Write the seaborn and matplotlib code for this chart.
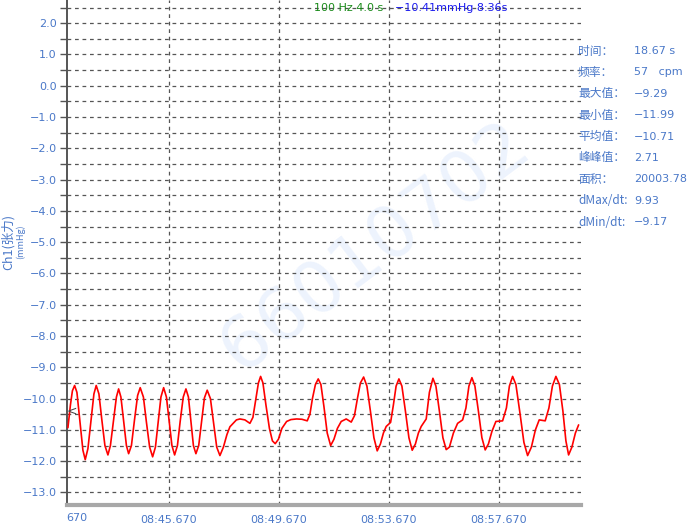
import matplotlib
matplotlib.use("Agg")
import matplotlib.pyplot as plt
from matplotlib.ticker import MultipleLocator, FixedLocator, FixedFormatter
import seaborn as sns
import pandas as pd

# ---------------- data ----------------
time_s = [0.342, 0.433, 0.505, 0.585, 0.669, 0.778, 0.887, 0.971, 1.069, 1.178,
          1.287, 1.371, 1.469, 1.578, 1.687, 1.796, 1.887, 1.996, 2.105, 2.185,
          2.269, 2.367, 2.469, 2.549, 2.651, 2.760, 2.876, 2.971, 3.087, 3.196,
          3.313, 3.422, 3.524, 3.625, 3.724, 3.822, 3.924, 4.022, 4.124, 4.222,
          4.324, 4.425, 4.535, 4.633, 4.724, 4.815, 4.905, 4.996, 5.098, 5.200,
          5.305, 5.407, 5.524, 5.636, 5.753, 5.869, 5.996, 6.124, 6.233, 6.353,
          6.469, 6.596, 6.778, 6.960, 7.069, 7.178, 7.269, 7.349, 7.433, 7.542,
          7.669, 7.778, 7.880, 7.996, 8.124, 8.295, 8.451, 8.658, 8.851, 9.044,
          9.142, 9.233, 9.342, 9.444, 9.542, 9.651, 9.771, 9.895, 10.015, 10.142,
          10.280, 10.462, 10.644, 10.760, 10.869, 10.978, 11.095, 11.215, 11.342, 11.469,
          11.589, 11.705, 11.815, 11.916, 12.076, 12.178, 12.276, 12.378, 12.487, 12.615,
          12.742, 12.862, 12.978, 13.087, 13.189, 13.371, 13.487, 13.615, 13.724, 13.851,
          13.978, 14.098, 14.215, 14.360, 14.513, 14.695, 14.815, 14.924, 15.033, 15.142,
          15.269, 15.396, 15.516, 15.633, 15.760, 15.905, 16.149, 16.287, 16.396, 16.513,
          16.633, 16.778, 16.924, 17.058, 17.196, 17.342, 17.480, 17.698, 17.833, 17.960,
          18.087, 18.215, 18.342, 18.451, 18.549, 18.669, 18.796, 18.913]
tension_mmhg = [-10.93, -10.20, -9.75, -9.58, -9.80, -10.74, -11.65, -11.95, -11.60, -10.74,
                -9.85, -9.58, -9.85, -10.70, -11.50, -11.80, -11.50, -10.72, -9.95, -9.69,
                -9.95, -10.72, -11.50, -11.76, -11.50, -10.70, -9.90, -9.65, -9.95, -10.75,
                -11.55, -11.86, -11.55, -10.75, -9.95, -9.65, -9.95, -10.72, -11.50, -11.80,
                -11.50, -10.72, -9.95, -9.69, -9.95, -10.72, -11.50, -11.76, -11.50, -10.74,
                -9.98, -9.73, -10.00, -10.77, -11.55, -11.82, -11.55, -11.15, -10.90, -10.79,
                -10.68, -10.65, -10.68, -10.79, -10.60, -10.00, -9.50, -9.29, -9.50, -10.20,
                -10.95, -11.35, -11.44, -11.30, -10.95, -10.73, -10.67, -10.65, -10.66, -10.71,
                -10.50, -10.00, -9.55, -9.37, -9.55, -10.25, -11.10, -11.50, -11.30, -10.95,
                -10.73, -10.65, -10.75, -10.55, -10.00, -9.50, -9.31, -9.60, -10.40, -11.25,
                -11.67, -11.45, -11.10, -10.89, -10.76, -10.20, -9.60, -9.37, -9.60, -10.40,
                -11.25, -11.65, -11.45, -11.10, -10.89, -10.65, -9.80, -9.35, -9.60, -10.40,
                -11.25, -11.63, -11.55, -11.10, -10.79, -10.68, -10.30, -9.60, -9.33, -9.60,
                -10.40, -11.25, -11.64, -11.45, -11.05, -10.73, -10.71, -10.30, -9.60, -9.29,
                -9.55, -10.45, -11.40, -11.82, -11.55, -11.00, -10.68, -10.71, -10.30, -9.60,
                -9.29, -9.55, -10.40, -11.35, -11.80, -11.55, -11.10, -10.84]

x_tick_pos = [4, 8, 12, 16]
x_tick_labels = ["08:45.670", "08:49.670", "08:53.670", "08:57.670"]
first_label_tail = "670"

stat_names = ["时间：", "频率：", "最大值：", "最小值：", "平均值：", "峰峰值：", "面积：", "dMax/dt:", "dMin/dt:"]
stat_values = ["18.67 s", "57   cpm", "−9.29", "−11.99", "−10.71", "2.71", "20003.78", "9.93", "−9.17"]

header_left = "100 Hz 4.0 s"
header_right = "−10.41mmHg 8:36s"
cursor_value = -10.41
ylabel_main = "Ch1(张力)"
ylabel_unit = "(mmHg)"
watermark = "66010702"

# ---------------- style ----------------
sns.set_theme(style="white")
plt.rcParams["font.family"] = ["DejaVu Sans", "Noto Sans CJK SC"]
CJK = ["Noto Sans CJK SC", "DejaVu Sans"]
BLUE = "#4a78c8"
W, H = 692, 524

fig = plt.figure(figsize=(W / 100, H / 100), dpi=100)
fig.patch.set_facecolor("white")
ax = fig.add_axes([66.5 / W, 1 - 505 / H, (581 - 66.5) / W, 505 / H])
ax.set_facecolor("white")

df = pd.DataFrame({"t": time_s, "v": tension_mmhg})
sns.lineplot(data=df, x="t", y="v", ax=ax, color="#ff0000", linewidth=1.2,
             estimator=None, sort=False, zorder=3)
ax.set_xlabel("")
ax.set_ylabel("")

ax.set_xlim(0.29, 19.0)
ax.set_ylim(-13.40, 2.74)

ax.yaxis.set_major_locator(MultipleLocator(1.0))
ax.yaxis.set_minor_locator(MultipleLocator(0.5))
ax.yaxis.set_major_formatter(matplotlib.ticker.FuncFormatter(lambda v, p: f"{v:.1f}".replace("-", "−")))
ax.xaxis.set_major_locator(FixedLocator(x_tick_pos))
ax.xaxis.set_major_formatter(FixedFormatter(x_tick_labels))

ax.tick_params(axis="y", which="both", direction="out", length=5, width=1,
               color="#555555", labelcolor=BLUE, labelsize=8, pad=2, left=True)
ax.tick_params(axis="x", which="both", length=0, labelcolor=BLUE, labelsize=8, pad=7)

ax.set_axisbelow(True)
ax.grid(True, axis="y", which="both", linestyle=(0, (3, 3)), color="#555555", linewidth=0.9)
ax.grid(True, axis="x", which="major", linestyle=(0, (3, 3)), color="#555555", linewidth=0.9)

for s in ["top", "right"]:
    ax.spines[s].set_visible(False)
ax.spines["left"].set_color("#555555")
ax.spines["left"].set_linewidth(1.4)
ax.spines["bottom"].set_color("#a8a8a8")
ax.spines["bottom"].set_linewidth(3)

# watermark
ax.text(0.60, 0.51, watermark, transform=ax.transAxes, fontsize=52, color="#edf3fd",
        rotation=37, ha="center", va="center", zorder=0.2)

# cursor marker
ax.text(0.29, cursor_value, "<", fontsize=9, color="#444444", ha="left", va="center", zorder=4)

# partial first x label
fig.text(66.5 / W, 1 - 518 / H, first_label_tail, color=BLUE, fontsize=8, ha="left", va="center")

# header
fig.text(349 / W, 1 - 8 / H, header_left, color="#1a8a1a", fontsize=8, ha="center", va="center")
fig.text(451 / W, 1 - 8 / H, header_right, color="#1a1aee", fontsize=8, ha="center", va="center")

# y labels
fig.text(8 / W, 1 - 242 / H, ylabel_main, color=BLUE, fontsize=9, rotation=90,
         ha="center", va="center", family=CJK)
fig.text(20 / W, 1 - 242 / H, ylabel_unit, color=BLUE, fontsize=6.5, rotation=90,
         ha="center", va="center", family=CJK)

# stats panel
for i, (n, val) in enumerate(zip(stat_names, stat_values)):
    y = 51 + i * 21.4
    fig.text(578 / W, 1 - y / H, n, color=BLUE, fontsize=8.5, ha="left", va="center", family=CJK)
    fig.text(634 / W, 1 - y / H, val, color=BLUE, fontsize=8, ha="left", va="center")

fig.savefig("out.png", dpi=100)
